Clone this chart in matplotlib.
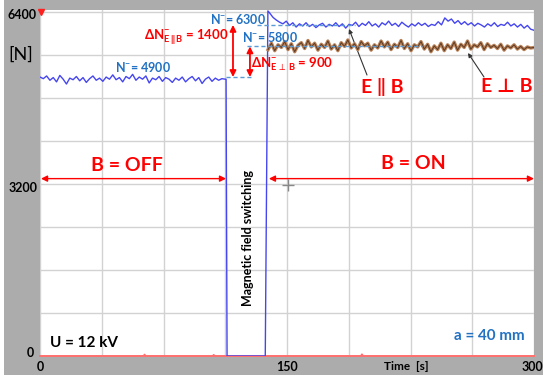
import numpy as np
import matplotlib
matplotlib.use("Agg")
import matplotlib.pyplot as plt
from matplotlib.patches import Rectangle

plt.rcParams['font.family'] = ['Lato', 'DejaVu Sans']
plt.rcParams['mathtext.fontset'] = 'custom'
plt.rcParams['mathtext.rm'] = 'Lato:bold'
plt.rcParams['mathtext.it'] = 'Lato:bold'
plt.rcParams['mathtext.bf'] = 'Lato:bold'

# data (force [N] vs time [s])
blue_before = [5190, 5160, 5210, 5130, 5180, 5100, 5220, 5150, 5060, 5170,
               5140, 5200, 5120, 5180, 5090, 5160, 5210, 5130, 5170, 5110,
               5190, 5150, 5230, 5140, 5180, 5100, 5200, 5160, 5240, 5130,
               5190, 5150, 5210, 5080, 5170, 5140, 5200, 5110, 5180, 5150,
               5090, 5170, 5130, 5190, 5100, 5160, 5200, 5120, 5180, 5070,
               5150, 5190, 5110, 5170, 5130, 5160, 5150]
switch_t = [113.0, 113.6, 136.8, 138.4]
switch_v = [5150, 0, 0, 6420]
blue_after = [6380, 6300, 6250, 6210, 6180, 6230, 6150, 6200, 6120, 6180,
              6140, 6200, 6130, 6170, 6110, 6160, 6190, 6120, 6170, 6140,
              6200, 6130, 6180, 6100, 6170, 6150, 6210, 6130, 6190, 6150,
              6220, 6140, 6180, 6120, 6200, 6160, 6230, 6150, 6190, 6130,
              6210, 6160, 6120, 6180, 6140, 6200, 6150, 6190, 6130, 6170,
              6150, 6220, 6160, 6290, 6230, 6270, 6190, 6240, 6170, 6220,
              6160, 6200, 6140, 6190, 6160, 6120, 6180, 6140, 6200, 6130,
              6170, 6150, 6210, 6140, 6180, 6120, 6170, 6100, 6150, 6080, 6060]
brown_perp = [5700, 5820, 5680, 5790, 5740, 5850, 5700, 5810, 5660, 5780,
              5830, 5720, 5870, 5750, 5820, 5690, 5800, 5740, 5860, 5710,
              5790, 5680, 5830, 5760, 5880, 5730, 5810, 5700, 5850, 5770,
              5820, 5690, 5790, 5730, 5860, 5750, 5840, 5700, 5800, 5740,
              5870, 5720, 5810, 5680, 5790, 5750, 5850, 5710, 5800, 5660,
              5770, 5700, 5820, 5680, 5790, 5720, 5840, 5690, 5800, 5740,
              5860, 5710, 5790, 5750, 5830, 5700, 5810, 5740, 5780, 5720,
              5800, 5690, 5770, 5730, 5790, 5710, 5760, 5700, 5750, 5730, 5740]
red_t = [0, 63, 63.5, 64, 105, 105.5, 106, 195, 195.5, 196, 300]
red_v = [0, 0, 25, 0, 0, 20, 0, 0, 30, 0, 0]

level_off, level_par, level_perp = 5190, 6160, 5760

t_before = np.linspace(0, 112.5, len(blue_before))
t_after = np.linspace(139.5, 300, len(blue_after))
t_perp = np.linspace(138.5, 300, len(brown_perp))

W, H = 550, 383
fig = plt.figure(figsize=(W / 100, H / 100), dpi=100)
fig.patches.append(Rectangle((4 / W, 1 - 375 / H), 539 / W, 375 / H,
                             transform=fig.transFigure, facecolor='#acacac',
                             edgecolor='none', zorder=-1))
ax = fig.add_axes([40 / W, 1 - 356 / H, 494 / W, 346 / H])
ax.set_zorder(1)
ax.set_facecolor('white')
ax.set_xlim(0, 300)
ax.set_ylim(0, 6400 * 346 / 344)
ax.set_xticks(np.arange(0, 301, 37.5))
ax.set_yticks(np.arange(0, 6401, 800))
ax.tick_params(length=0, labelbottom=False, labelleft=False)
ax.grid(color='#d2d2d2', lw=1)
for s in ax.spines.values():
    s.set_visible(False)


def P(x, y):
    return (x, H - y)


# curves
ax.plot(red_t, red_v, color='#ff6f6f', lw=1.4, clip_on=False, zorder=3)
ax.plot(list(t_before) + switch_t + list(t_after),
        blue_before + switch_v + blue_after, color='#4646f0', lw=1, zorder=4)
ax.plot(t_perp, brown_perp, color='#b98259', lw=2.4, zorder=5)
ax.plot(t_perp, brown_perp, color='#5c3a22', lw=0.7, zorder=6)

# dashed level lines
dash = dict(color='#5b9bd5', lw=1, ls=(0, (3, 2)), zorder=7)
ax.plot([113, 129], [level_off, level_off], **dash)
ax.plot([132, 191], [level_par, level_par], **dash)
ax.plot([126, 232], [level_perp, level_perp], **dash)

# difference arrows
red_arrow = dict(arrowstyle='<|-|>', color='red', lw=1.3, mutation_scale=9,
                 shrinkA=0, shrinkB=0)
ax.annotate('', xy=(117.2, level_par), xytext=(117.2, level_off), arrowprops=red_arrow)
ax.annotate('', xy=(127.5, level_perp), xytext=(127.5, level_off), arrowprops=red_arrow)

# B = OFF / ON arrows
ax.annotate('', xy=(0.6, 3300), xytext=(113, 3300), arrowprops=dict(red_arrow, lw=1))
ax.annotate('', xy=(139, 3300), xytext=(300, 3300), arrowprops=dict(red_arrow, lw=1))

# cursor cross and top marker
ax.plot([150.5], [3180], marker='+', ms=9, color='#888888', mew=1, zorder=8)
ax.plot([0.8], [6400], marker='v', ms=4, color='#ff2020', clip_on=False, zorder=8)

# pointer arrows for E||B and E_|_B
ax.annotate('', xy=P(349, 29), xytext=P(367, 75), xycoords='figure pixels',
            textcoords='figure pixels',
            arrowprops=dict(arrowstyle='-|>', color='#333333', lw=0.8,
                            mutation_scale=6, shrinkA=0, shrinkB=0))
ax.annotate('', xy=P(468, 53), xytext=P(484, 77), xycoords='figure pixels',
            textcoords='figure pixels',
            arrowprops=dict(arrowstyle='-|>', color='#333333', lw=0.8,
                            mutation_scale=6, shrinkA=0, shrinkB=0))


def T(x, y, s, **kw):
    kw.setdefault('ha', 'center')
    kw.setdefault('va', 'center')
    kw.setdefault('fontweight', 'bold')
    kw.setdefault('zorder', 5)
    fig.text(x / W, 1 - y / H, s, **kw)


# axis labels
T(22, 15, '6400', fontsize=9)
T(23, 188, '3200', fontsize=9)
T(30, 353, '0', fontsize=9)
T(40, 367, '0', fontsize=9)
T(287, 367, '150', fontsize=9)
T(532, 367, '300', fontsize=9)
T(406, 367, 'Time  [s]', fontsize=8.5)
T(21, 55, '[N]', fontsize=13, fontweight='normal')

# annotations
blue_txt = '#2272c3'
T(238, 19, r'N$^{-}$= 6300', fontsize=9, color=blue_txt)
T(270, 37, r'N$^{-}$= 5800', fontsize=9, color=blue_txt)
T(143, 67, r'N$^{-}$= 4900', fontsize=9, color=blue_txt)
T(186, 38, r'ΔN$^{-}_{E\,\|\,B}$ = 1400', fontsize=9.5, color='red')
T(292, 64, r'ΔN$^{-}_{E\,\perp\,B}$ = 900', fontsize=9.5, color='red')
T(382, 87, 'E ‖ B', fontsize=14, color='red')
T(507, 87, 'E ⊥ B', fontsize=14, color='red')
T(127, 166, 'B = OFF', fontsize=14, color='red')
T(413, 164, 'B = ON', fontsize=14, color='red')
T(248, 238, 'Magnetic field switching', fontsize=9, rotation=90)
T(84, 343, 'U = 12 kV', fontsize=11)
T(489, 336, 'a = 40 mm', fontsize=11, color=blue_txt)

fig.savefig('out.png', dpi=100)
